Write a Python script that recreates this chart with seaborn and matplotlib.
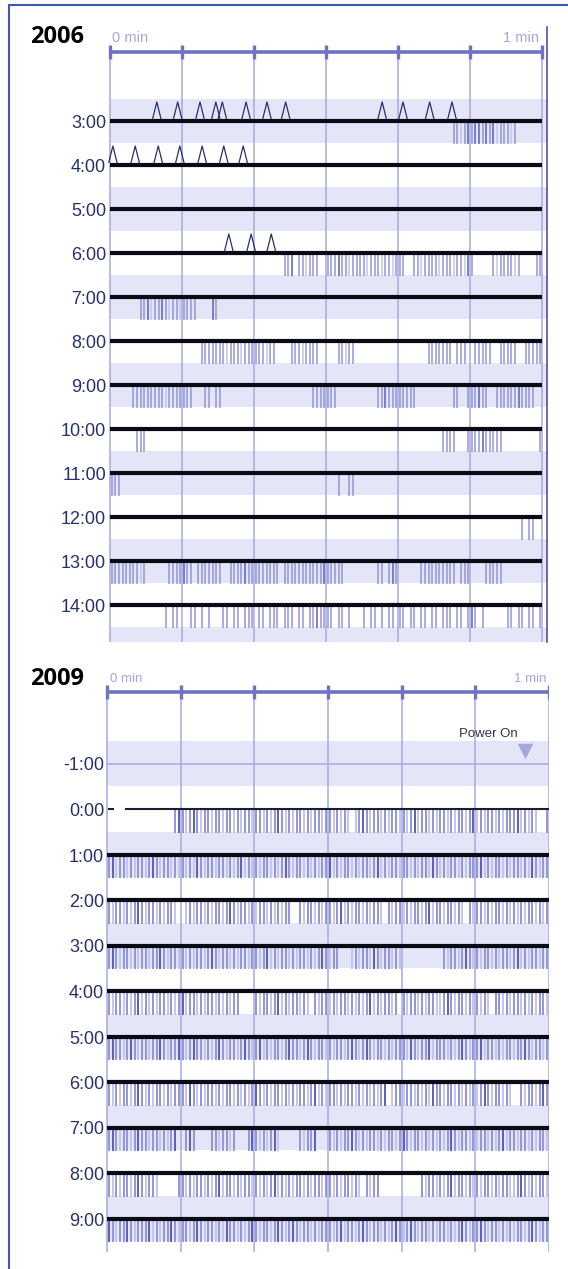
import matplotlib
matplotlib.use("Agg")
import matplotlib.pyplot as plt
from matplotlib import font_manager
from matplotlib.lines import Line2D
from matplotlib.path import Path
import numpy as np
import pandas as pd
import seaborn as sns

# ------------------------------------------------------------------ data ---
# Each activity row is twelve 5-second chunks, one character per half second:
# ' ' idle, '.' faint, '|' normal, '#' strong.
hours_2006 = [3, 4, 5, 6, 7, 8, 9, 10, 11, 12, 13, 14, 15]
activity_2006 = [
    ["", "", "", "", "", "", "", "", "", "     ||.|#", "|##|#|#.||", "|.|"],
    ["", "", "", "", "", "", "", "", "", "", "", ""],
    ["", "", "", "", "", "", "", "", "", "", "", ""],
    ["", "", "", "", "        ||", "# ||.|||  ", "|||#||.|||", "|.|||.||.|",
     "||  ||.|||", "|.|||.||.#", "|     |.||", "||.|    ||"],
    ["        ||", "#.||#|.||.", "||||    #|", "", "", "", "", "", "", "", "", ""],
    ["", "", "     |||||", "||.|||.|||", "|||.||    ", "|||.||||  ",
     "   ||.||  ", "", "        ||", "||||| ||| ", " |||||  ||", "|||  |||||"],
    ["      ||||", "|||||.||||", "|||   || |", "|", "", "      ||||", "|||",
     "    ||#|||", "|||||", "     ||  |", "||#||  |||", "|||#||||"],
    ["       |||", "", "", "", "", "", "", "", "", "  ||||   |", "|||#||||| ",
     "         |"],
    ["|||", "", "", "", "", "", "   |  ||", "", "", "", "", ""],
    ["", "", "", "", "", "", "", "", "", "", "", "    | ||"],
    ["||||||||.|", "      ||||", "#|| ||||||", "|  ||||#||", "||||||| ||",
     "|||||||||#", "|||||", "    || |#|", "      ||||", "|||||| |||",
     "    |||||", ""],
    ["", "     | || ", "  || | |  ", " || || |||", " || ||| ||", "| || ||#||",
     "|| || |   ", "| || | || ", "|| || || |", "| ||| || |", "#| |      ",
     "|| || || |"],
    ["", "", "", "", "", "", "", "", "", "", "", ""],
]
carets_2006_h3 = [6.5, 9.4, 12.5, 14.7, 15.6, 18.9, 21.8, 24.4, 37.8, 40.7, 44.4, 47.5]
carets_2006_h4 = [0.4, 3.5, 6.7, 9.7, 12.8, 15.8, 18.5]
carets_2006_h6 = [16.5, 19.6, 22.4]

hours_2009 = [-1, 0, 1, 2, 3, 4, 5, 6, 7, 8, 9]
activity_2009 = [
    ["", "", "", "", "", "", "", "", "", "", "", ""],
    ["", "        |#", "|.|#|.||.|", "|.||.|.||.", "||.|.|#|.|", ".||.|.||.|",
     "|.|.|. .|#", "|.||.|.||.", "|.|#.||.|.", "||.|.||.|#", ".|.||.|.||",
     "|#.|.|.  |"],
    ["|#.||.|.||", ".|#|.||.|.", "|.|.#|.||.", "||.|.|#.|.", "|.||.|.|#|",
     ".||.|.|.||", "#.|.||.|.|", "|.|#.|.||.", "||.|.||.#|", ".|.||.|.||",
     "|#.|.||.|.", "||.|.#|.||"],
    ["|.||.|.|#|", ".||.|.||. ", " .|.||.|.|", "|.|#|.||.|", ".||.|.|.||",
     "  |.||.|.|", "|.|#.|.||.", "|.||. |.||", ".|.||.|#.|", "|.||.|. |.",
     "||.|.||.|.", "|.|.||.|.|"],
    ["|#|.||.|.|", "|.||#|.||.", "|.|.||.|#|", ".||.|.||.|", "|.|#.|.||.",
     "|.||.|.|#|", ".||   .|.|", "|.#|.||.|.", "", " |.||.|#|.",
     "|.||.|.||.", "|#.|.||.||"],
    ["|.||.|.|#.", "|.|.||.|.|", "#.||.|.||.", "|.|.||    ", "|.||.|#.|.",
     "||.|. |.||", ".|.||.|.|.", "|#.|.||.| ", "|.||.|.||.", ".|#|.||.|.",
     "|.|. ||.|.", "||.|.|.||."],
    ["|#||.|#|.|", "|.||#|.||#", "|.|#||.|.|", "#|.||.|#|.", "|#.|.||.|#",
     "||.|#|.||.", "|.||.|#|.|", "#|.||.|.||", "|.#|.||#.|", "||.|.|#|.|",
     "|#.||.|.||", ".||#|.||.|"],
    ["|.|.||.|#|", ".|.||.|.||", "|.#|.|.||.", "|.||.|.|.|", "#|.|.||.|.",
     "|.||.|#.|.", "||.|.||.|.", "|.|.|# .||", ".||.|.|.#|", "|.||.|.|.|",
     ".|#|.||.|.", "  |.||.|#|"],
    ["|#|.||.|#|", "|.||.|.|# ", " |#|    ||", ".||.|   |#", "|.|.|#.   ",
     "  |.||#   ", "|.|.||#|.|", ".||.|.||.|", "#|.||.|.|.", "|.|#|.||.|",
     ".||.|.|#.|", "|.||.|.||."],
    ["|.|.||.|#|", ".||.     |", "|.|.||.|.|", "#.||.|.||.", "|.|.|#.|.|",
     ".||.|.||.|", "|.|.||.|. ", "|.||      ", "     |.||.", "|.|#.||.|.",
     "|.||.|.||.", ".|#|.|.||."],
    ["#|.||#|.||", "|#.|.||#|.", "||.|#|.||.", "|.#||.|.|#", "|.||.|#|.|",
     "#|.||.|.||", "|.|#.||.|#", "|.||.|.|#|", ".|#|.||.|.", "||.|.|#|.|",
     "|#|.||.|.|", ".||.|#|.||"],
]
power_on_sec = 56.7
power_on_hour = -1
minute_labels = ["0 min", "1 min"]

# ----------------------------------------------------------------- style ---
SLOT = 0.5
CHUNK = 10
TONE_COLORS = {".": "#C3C5EE", "|": "#9295DB", "#": "#5A5FC0"}
BAND = "#E4E5F7"
GRID = "#A6A9E2"
RULER = "#6E73C3"
NAVY = "#28306E"
PALE = "#A2A6DA"
BLACK = "#0B0B16"
FRAME = "#4256AE"

sns.set_theme(style="white")
names = {f.name for f in font_manager.fontManager.ttflist}
LABEL_FONT = "Liberation Sans Narrow" if "Liberation Sans Narrow" in names else "Liberation Sans"
LABEL_SIZE = 15 if LABEL_FONT == "Liberation Sans Narrow" else 13
plt.rcParams["font.family"] = ["Liberation Sans", "DejaVu Sans"]

W, H = 568, 1269
fig = plt.figure(figsize=(W / 100, H / 100), dpi=100)
fig.patch.set_facecolor("white")
PT = 0.72  # points per pixel at 100 dpi


def activity_frame(hours, rows):
    recs = []
    for h, chunks in zip(hours, rows):
        line = "".join(c.ljust(CHUNK)[:CHUNK] for c in chunks)
        for i, ch in enumerate(line):
            if ch in TONE_COLORS:
                recs.append({"sec": (i + 0.5) * SLOT, "hour": h, "tone": ch})
    return pd.DataFrame(recs, columns=["sec", "hour", "tone"])


def make_axes(px_left, px_top, px_right, px_bottom):
    ax = fig.add_axes([px_left / W, 1 - px_bottom / H,
                       (px_right - px_left) / W, (px_bottom - px_top) / H])
    ax.set_facecolor("none")
    ax.set_xticks([])
    ax.set_yticks([])
    for s in ax.spines.values():
        s.set_visible(False)
    return ax


def draw_panel(ax, hours, rows, pph, ruler_h, bottom_h, x_end, band_hours,
               label_x, thick_hours, bar_lw):
    # alternating hour bands
    for h in band_hours:
        ax.barh(h, x_end, left=0, height=1.0, color=BAND, linewidth=0, zorder=0)
    ticks = np.arange(0, 61, 10)
    ax.vlines(ticks, ruler_h, bottom_h, color=GRID, lw=1.1, zorder=1)
    # minute ruler across the top
    ax.hlines(ruler_h, 0, 60, color=RULER, lw=2.6, zorder=2)
    ax.vlines(ticks, ruler_h - 7 / pph, ruler_h + 7 / pph, color=RULER, lw=2.4,
              zorder=2)
    # activity bars hanging below each hour line
    df = activity_frame(hours, rows)
    df["mid"] = df["hour"] + 0.27
    sns.scatterplot(data=df, x="sec", y="mid", hue="tone", palette=TONE_COLORS,
                    marker="|", s=(0.5 * pph * PT) ** 2, linewidth=bar_lw,
                    legend=False, ax=ax, zorder=3)
    ax.hlines(thick_hours, 0, 60, color=BLACK, lw=3.0, zorder=4)
    for h in hours:
        ax.text(label_x, h + 7 / pph, f"{h}:00", ha="right", va="baseline",
                fontsize=LABEL_SIZE, color=NAVY, family=LABEL_FONT,
                clip_on=True, zorder=5)
    ax.set_xlabel("")
    ax.set_ylabel("")


# ------------------------------------------------------------ 2006 panel ---
pps06, pph06 = 7.2, 44.0
h06 = lambda py: 3 + (py - 121) / pph06
ax06 = make_axes(50, 27, 547, 642)
draw_panel(ax06, hours_2006, activity_2006, pph06, h06(52), h06(642),
           60 + 5 / pps06, [h for h in hours_2006 if h % 2],
           -4 / pps06, [h for h in hours_2006 if h < 15], 1.1)

caret = Path([(-0.5, -1.0), (0.0, 1.0), (0.5, -1.0)],
             [Path.MOVETO, Path.LINETO, Path.LINETO])
for hr, secs in [(3, carets_2006_h3), (4, carets_2006_h4), (6, carets_2006_h6)]:
    sns.scatterplot(x=secs, y=[hr - 10.5 / pph06] * len(secs), marker=caret,
                    s=150, facecolor="none", edgecolor=NAVY, linewidth=0.9,
                    legend=False, ax=ax06, zorder=6)

ax06.text(0.3, h06(42), minute_labels[0], ha="left", va="baseline",
          fontsize=10.5, color=PALE)
ax06.text(59.6, h06(42), minute_labels[1], ha="right", va="baseline",
          fontsize=10.5, color=PALE)
ax06.spines["right"].set_visible(True)
ax06.spines["right"].set_color("#3E4399")
ax06.spines["right"].set_linewidth(1.1)
ax06.set_xlim(-60 / pps06, 60 + 5 / pps06)
ax06.set_ylim(h06(642), h06(27))
ax06.set_xlabel("")
ax06.set_ylabel("")

# ------------------------------------------------------------ 2009 panel ---
pps09, pph09 = 442 / 60, 45.5
h09 = lambda py: (py - 809) / pph09
ax09 = make_axes(50, 660, 549, 1252)
draw_panel(ax09, hours_2009, activity_2009, pph09, h09(692), h09(1252), 60,
           [h for h in hours_2009 if h % 2], -3 / pps09,
           [h for h in hours_2009 if h > 0], 1.4)
ax09.hlines(-1, 0, 60, color=GRID, lw=1.1, zorder=4)
ax09.hlines(0, 18 / pps09, 60, color="#1C1C2C", lw=1.5, zorder=4)
ax09.hlines(0, 1 / pps09, 7 / pps09, color="#1C1C2C", lw=1.5, zorder=4)

sns.scatterplot(x=[power_on_sec], y=[power_on_hour - 0.275], marker="v", s=125,
                color="#A5A7D9", linewidth=0, legend=False, ax=ax09, zorder=6)
ax09.text(power_on_sec - 8.9, h09(737), "Power On", ha="left", va="baseline",
          fontsize=9.5, color="#34344A")
ax09.text(0.4, h09(682), minute_labels[0], ha="left", va="baseline",
          fontsize=9.5, color=PALE)
ax09.text(59.6, h09(682), minute_labels[1], ha="right", va="baseline",
          fontsize=9.5, color=PALE)
ax09.set_xlim(-57 / pps09, 60)
ax09.set_ylim(h09(1252), h09(660))
ax09.set_xlabel("")
ax09.set_ylabel("")

# ---------------------------------------------------------------- titles ---
fig.text(30 / W, 1 - 43 / H, "2006", ha="left", va="baseline", fontsize=17,
         fontweight="bold", family=["Open Sans", "DejaVu Sans"], color="black")
fig.text(30 / W, 1 - 685 / H, "2009", ha="left", va="baseline", fontsize=17,
         fontweight="bold", family=["Open Sans", "DejaVu Sans"], color="black")

# outer frame
fig.add_artist(Line2D([8.5 / W, 1.0], [1 - 4.5 / H, 1 - 4.5 / H],
                      transform=fig.transFigure, color=FRAME, lw=1.5))
fig.add_artist(Line2D([8.5 / W, 8.5 / W], [1 - 4.5 / H, 0.0],
                      transform=fig.transFigure, color=FRAME, lw=1.5))

fig.savefig("out.png", dpi=100, facecolor="white")
